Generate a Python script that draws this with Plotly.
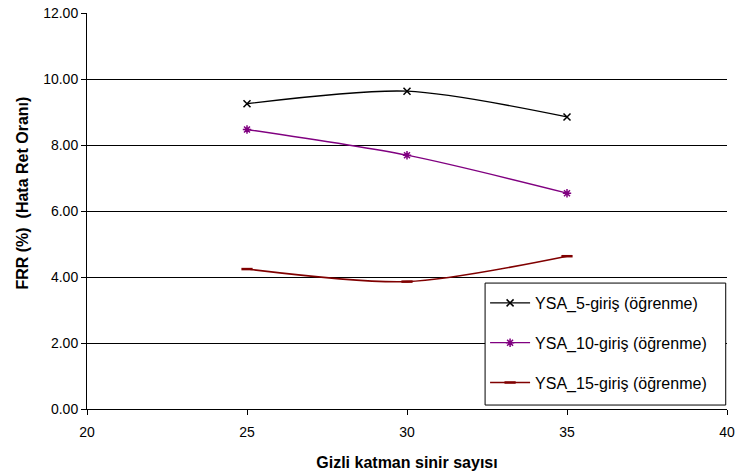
import plotly.graph_objects as go

# Hidden-layer neuron counts and FRR (%) for each input configuration
neurons = [25, 30, 35]
frr_5 = [9.25, 9.63, 8.85]
frr_10 = [8.47, 7.69, 6.54]
frr_15 = [4.24, 3.86, 4.63]

series_names = ["YSA_5-giriş (öğrenme)", "YSA_10-giriş (öğrenme)", "YSA_15-giriş (öğrenme)"]
y_ticks = [0, 2, 4, 6, 8, 10, 12]
x_ticks = [20, 25, 30, 35, 40]

styles = [
    dict(color="#000000", symbol="x-thin", size=7),
    dict(color="#800080", symbol="asterisk", size=7),
    dict(color="#800000", symbol="line-ew", size=8),
]

fig = go.Figure()
for i, (vals, name, st) in enumerate(zip([frr_5, frr_10, frr_15], series_names, styles)):
    fig.add_trace(go.Scatter(
        x=neurons, y=vals, name=name, mode="lines+markers",
        line=dict(color=st["color"], width=1.3 if i < 2 else 1.6, shape="spline", smoothing=0.8),
        marker=dict(symbol=st["symbol"], size=st["size"], color=st["color"],
                    line=dict(color=st["color"], width=1.5 if i < 2 else 2.5)),
        legendgroup=f"g{i}",
    ))

font_main = "Liberation Sans, Arial, sans-serif"
font_title = "Liberation Sans Narrow, Arial Narrow, Liberation Sans, Arial, sans-serif"

# framed white box behind the legend
fig.add_shape(
    type="rect", xref="paper", yref="paper",
    x0=0.622, x1=0.998, y0=0.010, y1=0.318,
    line=dict(color="#000000", width=1), fillcolor="white", layer="above",
)

# y-axis title, placed as an annotation so it can sit slightly above center
fig.add_annotation(
    text="<b>FRR (%)  (Hata Ret Oranı)</b>", textangle=-90,
    xref="paper", yref="paper", x=-0.101, y=0.545,
    xanchor="center", yanchor="middle", showarrow=False,
    font=dict(family=font_title, size=16, color="#000000"),
)

fig.update_layout(
    width=735, height=473,
    margin=dict(l=87, r=8, t=13, b=64, autoexpand=False),
    paper_bgcolor="white", plot_bgcolor="white",
    font=dict(family=font_main, color="#000000"),
    showlegend=True,
    legend=dict(
        x=0.622, y=0.3106, xanchor="left", yanchor="top",
        bgcolor="rgba(0,0,0,0)", borderwidth=0,
        font=dict(family=font_main, size=16, color="#000000"),
        traceorder="grouped", tracegroupgap=16,
        itemwidth=40,
    ),
    xaxis=dict(
        range=[20, 40], tickvals=x_ticks, ticktext=[str(v) for v in x_ticks],
        showgrid=False, zeroline=False, automargin=False,
        showline=True, linecolor="#000000", linewidth=1,
        ticks="outside", ticklen=5, tickcolor="#000000",
        ticklabelstandoff=5, ticklabeloverflow="allow",
        tickfont=dict(family=font_main, size=14, color="#000000"),
        title=dict(text="<b>Gizli katman sinir sayısı</b>",
                   font=dict(family=font_title, size=16, color="#000000"), standoff=18),
    ),
    yaxis=dict(
        range=[0, 12], tickvals=y_ticks, tickformat=".2f",
        showgrid=True, gridcolor="#000000", gridwidth=1,
        zeroline=False, automargin=False,
        showline=True, linecolor="#000000", linewidth=1,
        ticks="outside", ticklen=5, tickcolor="#000000",
        tickfont=dict(family=font_main, size=14, color="#000000"),
    ),
)

fig.write_html("out.html")
